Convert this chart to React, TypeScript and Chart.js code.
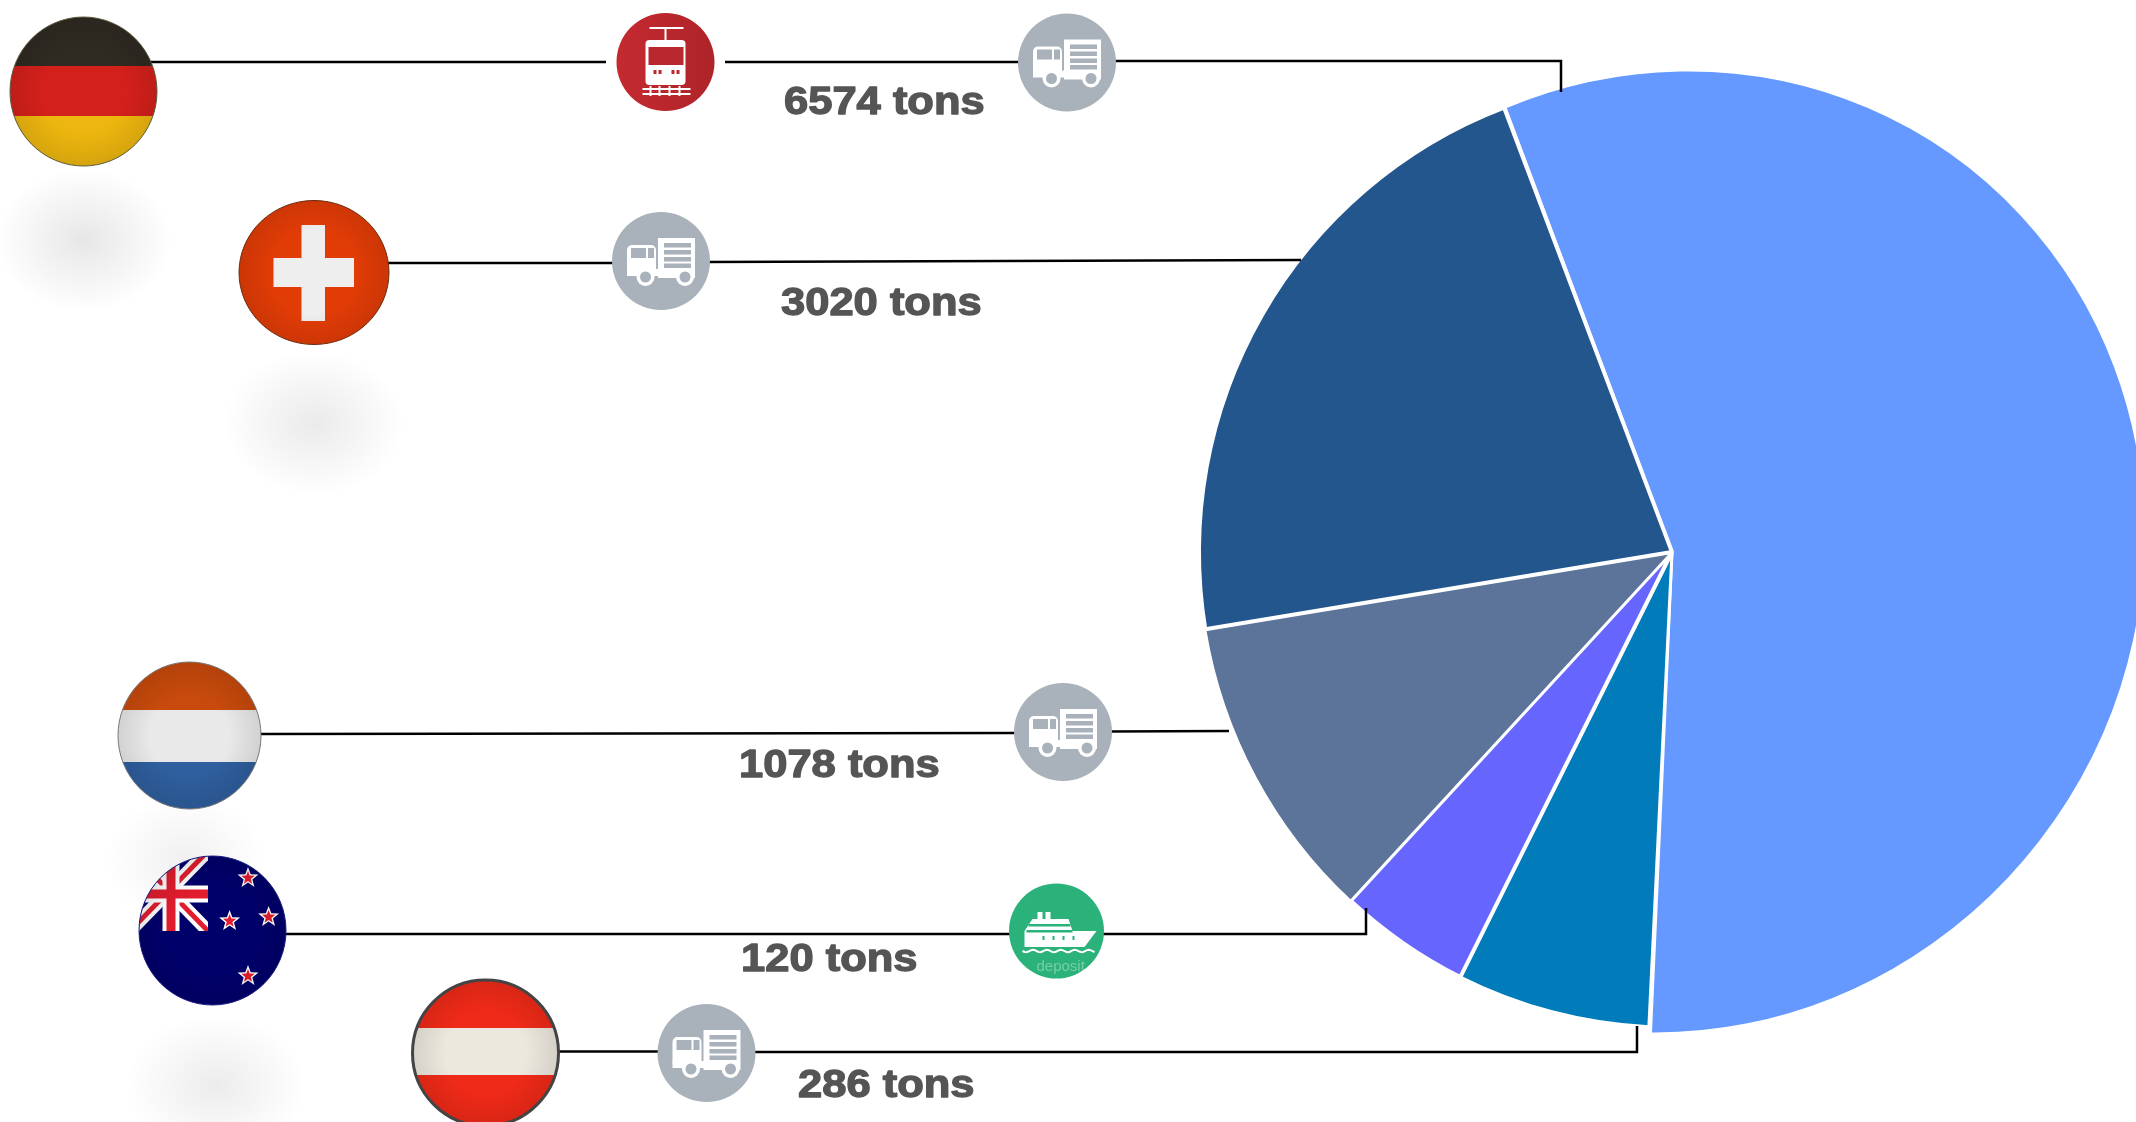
import React, { useEffect, useRef } from "react";
import { Chart, registerables } from "chart.js";

Chart.register(...registerables);

const sliceNames = ["Germany", "Austria", "New Zealand", "Netherlands", "Switzerland"];
const sliceShares = [56.5, 6.6, 4.5, 10.5, 21.8];
const sliceColors = ["#6699ff", "#027bba", "#6666ff", "#5c7499", "#24568e"];
const sliceBorders = [3, 3, 4, 2, 4];
const tonLabels = ["6574 tons", "3020 tons", "1078 tons", "120 tons", "286 tons"];

const W = 2136;
const H = 1122;
const PIE = { x: 1672, y: 552, r: 473, firstExtra: 6.5, rotation: -20.8, stretchY: 1.005 };
const FIRST_SLICE_SKEW = { shear: 0.0175, squeezeX: 0.988, startShift: -0.85, endShift: -1.2 };
const LABEL_SPOTS = [
  [784, 113.5],
  [781, 315],
  [739, 777],
  [741, 971],
  [798, 1097],
];
const LEADERS: number[][][] = [
  [[150, 62], [606, 62]],
  [[725, 62], [1020, 62]],
  [[1112, 61], [1561, 61], [1561, 92]],
  [[385, 263], [615, 263]],
  [[706, 262], [1301, 260]],
  [[258, 734], [1018, 733]],
  [[1108, 731.5], [1229, 731]],
  [[284, 934], [1012, 934]],
  [[1100, 934], [1366, 934], [1366, 908]],
  [[556, 1051.5], [662, 1051.5]],
  [[750, 1052], [1637, 1052], [1637, 1026]],
];
const SHADOWS = [
  [84, 240, 88, 72, 0.13],
  [314, 423, 90, 72, 0.11],
  [185, 860, 80, 65, 0.08],
  [216, 1085, 90, 70, 0.1],
];

type Ctx = CanvasRenderingContext2D;

function ell(ctx: Ctx, x: number, y: number, rx: number, ry: number) {
  ctx.beginPath();
  ctx.ellipse(x, y, rx, ry, 0, 0, Math.PI * 2);
}

function box(ctx: Ctx, c: string, x0: number, y0: number, x1: number, y1: number) {
  ctx.fillStyle = c;
  ctx.fillRect(x0, y0, x1 - x0, y1 - y0);
}

function flag(ctx: Ctx, x: number, y: number, rx: number, ry: number, edge: string, edgeW: number, body: () => void) {
  ctx.save();
  ell(ctx, x, y, rx, ry);
  ctx.clip();
  body();
  const g = ctx.createRadialGradient(x, y, rx * 0.55, x, y, rx);
  g.addColorStop(0, "rgba(0,0,0,0)");
  g.addColorStop(1, "rgba(0,0,0,0.1)");
  ctx.fillStyle = g;
  ctx.fillRect(x - rx, y - ry, rx * 2, ry * 2);
  ctx.restore();
  ell(ctx, x, y, rx, ry);
  ctx.strokeStyle = edge;
  ctx.lineWidth = edgeW;
  ctx.stroke();
}

function star(ctx: Ctx, cx: number, cy: number, r: number, color: string) {
  ctx.beginPath();
  for (let i = 0; i < 10; i++) {
    const a = -Math.PI / 2 + (i * Math.PI) / 5;
    const q = i % 2 ? r * 0.42 : r;
    ctx.lineTo(cx + q * Math.cos(a), cy + q * Math.sin(a));
  }
  ctx.closePath();
  ctx.fillStyle = color;
  ctx.fill();
}

function truck(ctx: Ctx, x: number, y: number, r: number) {
  const gray = "#a9b1bb";
  ell(ctx, x, y, r, r);
  ctx.fillStyle = gray;
  ctx.fill();
  ctx.fillStyle = "#ffffff";
  ctx.fillRect(x - 3, y - 23, 37, 40);
  ctx.beginPath();
  ctx.roundRect(x - 34, y - 16, 29, 30, 5);
  ctx.fill();
  ctx.fillRect(x - 34, y + 8, 60, 7);
  ctx.fillStyle = gray;
  [-18, -11, -4, 2.5].forEach((d) => ctx.fillRect(x + 3, y + d, 27, 4.5));
  ctx.fillRect(x - 30, y - 13, 15, 10);
  ctx.fillRect(x - 13, y - 13, 6, 10);
  [[-15.5, 16], [24, 16]].forEach(([dx, dy]) => {
    ell(ctx, x + dx, y + dy, 9, 9);
    ctx.fillStyle = "#ffffff";
    ctx.fill();
    ell(ctx, x + dx, y + dy, 5.5, 5.5);
    ctx.fillStyle = gray;
    ctx.fill();
  });
}

function train(ctx: Ctx, x: number, y: number, r: number) {
  const g = ctx.createLinearGradient(x - r, y, x + r, y);
  g.addColorStop(0, "#c42a30");
  g.addColorStop(1, "#ae2429");
  ell(ctx, x, y, r, r);
  ctx.fillStyle = g;
  ctx.fill();
  ctx.strokeStyle = "#ffffff";
  ctx.lineWidth = 2;
  ctx.beginPath();
  ctx.moveTo(x - 16, y - 34);
  ctx.lineTo(x + 18, y - 34);
  ctx.moveTo(x, y - 34);
  ctx.lineTo(x, y - 22);
  ctx.stroke();
  ctx.fillStyle = "#ffffff";
  ctx.beginPath();
  ctx.roundRect(x - 20, y - 22, 40, 45, 4);
  ctx.fill();
  ctx.fillStyle = "#b8282e";
  ctx.fillRect(x - 17, y - 15, 35, 18);
  ctx.fillRect(x - 12, y + 8, 3, 4);
  ctx.fillRect(x - 7, y + 8, 3, 4);
  ctx.fillRect(x + 6, y + 8, 3, 4);
  ctx.fillRect(x + 11, y + 8, 3, 4);
  ctx.fillStyle = "#ffffff";
  ctx.fillRect(x - 23, y + 26, 48, 2);
  ctx.fillRect(x - 23, y + 31, 48, 2);
  [-16, -7, 3, 13].forEach((d) => ctx.fillRect(x + d, y + 24, 2, 10));
}

function ship(ctx: Ctx, x: number, y: number, r: number) {
  ell(ctx, x, y, r, r);
  ctx.fillStyle = "#2bb27a";
  ctx.fill();
  ctx.fillStyle = "#ffffff";
  ctx.fillRect(x - 19, y - 19, 5, 8);
  ctx.fillRect(x - 11, y - 19, 5, 8);
  ctx.beginPath();
  ctx.moveTo(x - 24, y - 12);
  ctx.lineTo(x + 12, y - 12);
  ctx.lineTo(x + 16, y);
  ctx.lineTo(x + 40, y);
  ctx.lineTo(x + 28, y + 16);
  ctx.lineTo(x - 32, y + 16);
  ctx.lineTo(x - 32, y);
  ctx.closePath();
  ctx.fill();
  ctx.fillStyle = "#2bb27a";
  ctx.fillRect(x - 28, y - 7, 42, 2.5);
  ctx.fillRect(x - 30, y - 1, 46, 2.5);
  [-14, -4, 6, 16].forEach((d) => ctx.fillRect(x + d, y + 5, 2, 4));
  ctx.strokeStyle = "#ffffff";
  ctx.lineWidth = 2;
  ctx.beginPath();
  for (let i = 0; i <= 36; i++) {
    const px = x - 34 + i * 2;
    const py = y + 20 + Math.sin(i * 0.9) * 1.2;
    if (i === 0) ctx.moveTo(px, py);
    else ctx.lineTo(px, py);
  }
  ctx.stroke();
  ctx.save();
  ell(ctx, x, y, r, r);
  ctx.clip();
  ctx.fillStyle = "rgba(255,255,255,0.35)";
  ctx.font = "15px 'Liberation Sans'";
  ctx.textAlign = "left";
  ctx.textBaseline = "alphabetic";
  ctx.fillText("deposit", x - 20, y + 40);
  ctx.restore();
}

function unionJack(ctx: Ctx) {
  const left = 130;
  const right = 208;
  const top = 851;
  const bottom = 931;
  ctx.save();
  ctx.beginPath();
  ctx.rect(left, top, right - left, bottom - top);
  ctx.clip();
  const stripe = (x0: number, y0: number, x1: number, y1: number, w: number, c: string) => {
    ctx.strokeStyle = c;
    ctx.lineWidth = w;
    ctx.beginPath();
    ctx.moveTo(x0, y0);
    ctx.lineTo(x1, y1);
    ctx.stroke();
  };
  stripe(left, top, right, bottom, 13, "#ffffff");
  stripe(left, bottom, right, top, 13, "#ffffff");
  stripe(left, top, right, bottom, 5, "#e11d2e");
  stripe(left, bottom, right, top, 5, "#e11d2e");
  stripe((left + right) / 2 + 2, top, (left + right) / 2 + 2, bottom, 17, "#ffffff");
  stripe(left, 894, right, 894, 17, "#ffffff");
  stripe((left + right) / 2 + 2, top, (left + right) / 2 + 2, bottom, 9, "#e11d2e");
  stripe(left, 894, right, 894, 9, "#e11d2e");
  ctx.restore();
}

const scenery = {
  id: "scenery",
  afterDatasetsUpdate(chart: Chart) {
    const arc: any = chart.getDatasetMeta(0).data[0];
    const deg = Math.PI / 180;
    arc.outerRadius = PIE.r + PIE.firstExtra;
    arc.startAngle += FIRST_SLICE_SKEW.startShift * deg;
    arc.endAngle += FIRST_SLICE_SKEW.endShift * deg;
    const baseDraw = arc.draw;
    arc.draw = function (ctx: Ctx) {
      const { shear, squeezeX } = FIRST_SLICE_SKEW;
      ctx.save();
      ctx.translate(PIE.x, PIE.y);
      ctx.transform(squeezeX, -shear, -squeezeX * shear, 1, 0, 0);
      ctx.translate(-PIE.x, -PIE.y);
      baseDraw.call(this, ctx);
      ctx.restore();
    };
  },
  beforeDatasetsDraw(chart: Chart) {
    const ctx = chart.ctx;
    SHADOWS.forEach(([x, y, rx, ry, a]) => {
      ctx.save();
      ctx.translate(x, y);
      ctx.scale(rx, ry);
      const g = ctx.createRadialGradient(0, 0, 0, 0, 0, 1);
      g.addColorStop(0, `rgba(120,120,120,${a * 1.4})`);
      g.addColorStop(0.5, `rgba(120,120,120,${a * 0.7})`);
      g.addColorStop(1, "rgba(120,120,120,0)");
      ctx.fillStyle = g;
      ctx.beginPath();
      ctx.arc(0, 0, 1, 0, Math.PI * 2);
      ctx.fill();
      ctx.restore();
    });
  },
  beforeDatasetDraw(chart: Chart) {
    const ctx = chart.ctx;
    ctx.save();
    ctx.translate(PIE.x, PIE.y);
    ctx.scale(1, PIE.stretchY);
    ctx.translate(-PIE.x, -PIE.y);
  },
  afterDatasetDraw(chart: Chart) {
    chart.ctx.restore();
  },
  afterDatasetsDraw(chart: Chart) {
    const ctx = chart.ctx;
    ctx.save();
    ctx.strokeStyle = "#000000";
    ctx.lineWidth = 2.5;
    ctx.lineJoin = "miter";
    LEADERS.forEach((pts) => {
      ctx.beginPath();
      pts.forEach(([x, y], i) => (i === 0 ? ctx.moveTo(x, y) : ctx.lineTo(x, y)));
      ctx.stroke();
    });
    flag(ctx, 83.5, 91.5, 73.5, 74.5, "#5a5a3a", 1, () => {
      box(ctx, "#2f2a22", 0, 0, 170, 66);
      box(ctx, "#d4201b", 0, 66, 170, 116);
      box(ctx, "#eeb70f", 0, 116, 170, 170);
    });
    flag(ctx, 314, 272.5, 75, 72, "#6a2a10", 1, () => {
      box(ctx, "#e23c06", 230, 195, 400, 350);
      box(ctx, "#eeeeee", 301.5, 225, 325, 321);
      box(ctx, "#eeeeee", 273.5, 258, 354, 287);
    });
    flag(ctx, 189.5, 735.5, 71.5, 73.5, "#777777", 1, () => {
      box(ctx, "#c84a0c", 110, 655, 270, 710);
      box(ctx, "#e9e9e9", 110, 710, 270, 762);
      box(ctx, "#2f5f9e", 110, 762, 270, 815);
    });
    flag(ctx, 212.5, 930.5, 73.5, 74.5, "#1a1a80", 1, () => {
      box(ctx, "#00006b", 130, 850, 295, 1010);
      unionJack(ctx);
      [[248, 878], [268.6, 917], [229.6, 921], [248, 976]].forEach(([x, y]) => {
        star(ctx, x, y, 11, "#ffffff");
        star(ctx, x, y, 7, "#e11d2e");
      });
    });
    flag(ctx, 485.5, 1053, 73, 73, "#444444", 3, () => {
      box(ctx, "#f02a18", 405, 975, 565, 1028);
      box(ctx, "#ece8de", 405, 1028, 565, 1075);
      box(ctx, "#f02a18", 405, 1075, 565, 1130);
    });
    train(ctx, 665.5, 62, 49);
    truck(ctx, 1067, 62.5, 49);
    truck(ctx, 661, 261, 49);
    truck(ctx, 1063, 732, 49);
    ship(ctx, 1056.5, 931, 47.5);
    truck(ctx, 706.5, 1053, 49);

    ctx.fillStyle = "#555555";
    ctx.strokeStyle = "#555555";
    ctx.lineWidth = 1.3;
    ctx.lineJoin = "round";
    ctx.font = "bold 38px 'Liberation Sans'";
    ctx.textAlign = "left";
    ctx.textBaseline = "alphabetic";
    tonLabels.forEach((t, i) => {
      ctx.save();
      ctx.translate(LABEL_SPOTS[i][0], LABEL_SPOTS[i][1]);
      ctx.scale(1.145, 1);
      ctx.fillText(t, 0, 0);
      ctx.strokeText(t, 0, 0);
      ctx.restore();
    });
    ctx.restore();
  },
};

export default function App() {
  const ref = useRef<HTMLCanvasElement>(null);
  useEffect(() => {
    document.body.style.margin = "0";
    const chart = new Chart(ref.current!, {
      type: "pie",
      data: {
        labels: sliceNames,
        datasets: [
          {
            data: sliceShares,
            backgroundColor: sliceColors,
            borderColor: "#ffffff",
            borderWidth: sliceBorders,
          },
        ],
      },
      options: {
        animation: false,
        responsive: false,
        radius: PIE.r,
        rotation: PIE.rotation,
        layout: {
          padding: {
            left: 2 * PIE.x - W,
            right: 0,
            top: 0,
            bottom: H - 2 * PIE.y,
          },
        },
        plugins: { legend: { display: false }, tooltip: { enabled: false }, title: { display: false } },
      } as any,
      plugins: [scenery as any],
    });
    return () => chart.destroy();
  }, []);
  return (
    <div style={{ width: W, height: H, overflow: "hidden", background: "#ffffff" }}>
      <canvas ref={ref} width={W} height={H} style={{ display: "block" }} />
    </div>
  );
}
